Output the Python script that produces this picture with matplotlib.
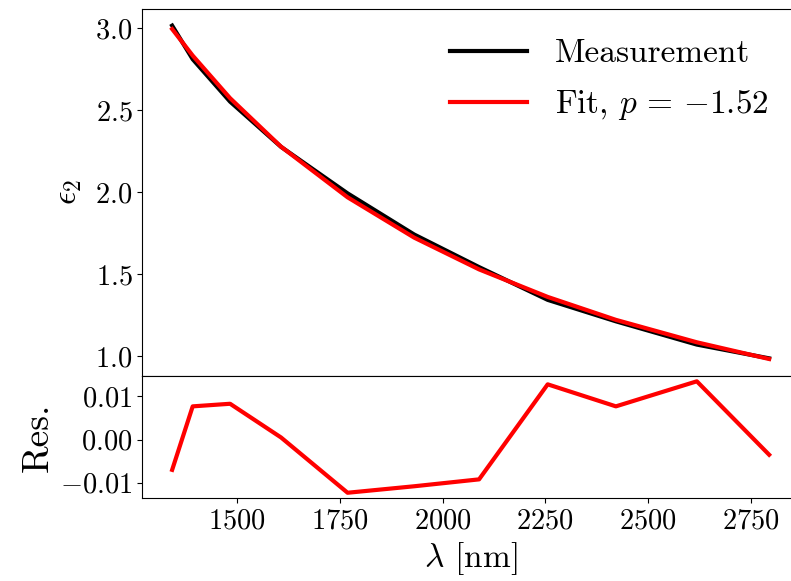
import numpy as np
import matplotlib
matplotlib.use("Agg")
import matplotlib.pyplot as plt
from matplotlib.ticker import MultipleLocator

# Computer Modern look without a LaTeX install
plt.rcParams['font.family'] = 'serif'
plt.rcParams['font.serif'] = ['cmr10']
plt.rcParams['mathtext.fontset'] = 'cm'
plt.rcParams['axes.formatter.use_mathtext'] = True
plt.rcParams['axes.unicode_minus'] = True

# data
wavelength = [1342, 1392, 1483, 1607, 1769, 1931, 2089, 2256, 2422, 2619, 2795]
measurement = [3.017, 2.812, 2.553, 2.277, 1.993, 1.742, 1.543, 1.343, 1.212, 1.070, 0.986]
fit = [2.996, 2.834, 2.574, 2.278, 1.969, 1.723, 1.529, 1.361, 1.221, 1.084, 0.982]
residual = [-0.0070, 0.0077, 0.0083, 0.0005, -0.0123, -0.0108, -0.0092,
            0.0128, 0.0077, 0.0135, -0.0035]
fit_label = r'Fit, $p\,=\,{-1.52}$'

fig = plt.figure(figsize=(7.91, 5.81), dpi=100)
ax1 = fig.add_axes([0.1799, 0.3534, 0.8302, 0.6312])
ax2 = fig.add_axes([0.1799, 0.1423, 0.8302, 0.2110], sharex=ax1)

# main panel
ax1.plot(wavelength, measurement, color='black', lw=3, label='Measurement')
ax1.plot(wavelength, fit, color='red', lw=3, label=fit_label)
ax1.set_ylabel(r'$\epsilon_2$', fontsize=24, labelpad=8)
ax1.yaxis.set_major_locator(MultipleLocator(0.5))
ax1.tick_params(axis='x', bottom=False, labelbottom=False)
ax1.tick_params(axis='y', labelsize=20.5)
ax1.legend(loc='upper right', frameon=False, fontsize=24,
           handlelength=2.3, handletextpad=0.85, labelspacing=0.6)

# residuals
ax2.plot(wavelength, residual, color='red', lw=3)
ax2.set_ylabel('Res.', fontsize=27)
ax2.set_xlabel(r'$\lambda$ [nm]', fontsize=24)
ax2.xaxis.set_major_locator(MultipleLocator(250))
ax2.yaxis.set_major_locator(MultipleLocator(0.01))
ax2.tick_params(labelsize=20.5)

fig.savefig('out.png', dpi=100)
